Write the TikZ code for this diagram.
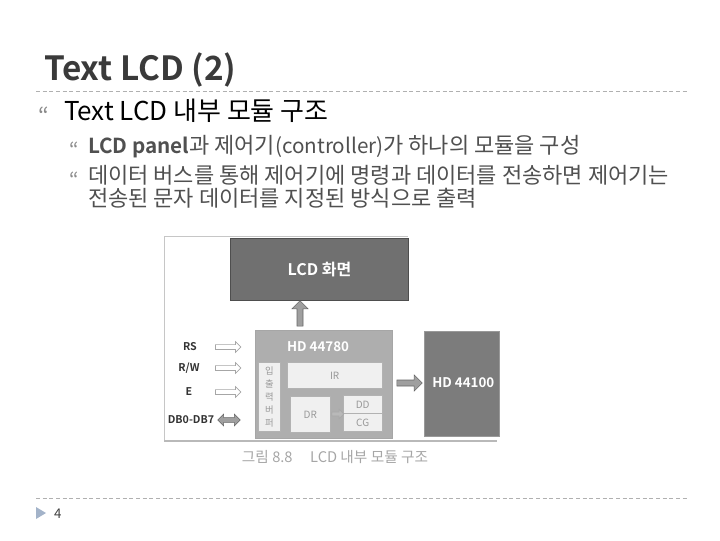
\documentclass[tikz,border=0pt]{standalone}
\usepackage{fontspec}
\setmainfont{Noto Sans CJK KR}
\newfontfamily\krb{Noto Sans CJK KR Bold}
\usetikzlibrary{arrows.meta,shapes.arrows,calc}
\definecolor{titlec}{HTML}{3A3A3A}
\definecolor{subc}{HTML}{505050}
\definecolor{bulc}{HTML}{8A8A8A}
\definecolor{dashc}{HTML}{B0B0B0}
\definecolor{darkbox}{HTML}{707070}
\definecolor{midbox}{HTML}{AEAEAE}
\definecolor{rbox}{HTML}{7C7C7C}
\definecolor{inbox}{HTML}{F0F0F0}
\definecolor{pgc}{HTML}{A3B3C9}
\newcommand{\latsm}[1]{{\fontsize{15.5}{16}\selectfont #1}}
\tikzset{
  txt/.style={anchor=base west,inner sep=0pt,outer sep=0pt},
  bul/.style={txt,text=bulc,font=\fontsize{15}{15}\selectfont},
  sub/.style={txt,text=subc,font=\fontsize{16.5}{17}\selectfont},
  blk/.style={draw=#1!70!black,fill=#1,line width=0.8pt,inner sep=0pt},
  inn/.style={draw=gray!60,fill=inbox,line width=0.5pt,inner sep=0pt},
  wlab/.style={inner sep=0pt,text=white,font=\krb\fontsize{10}{10}\selectfont},
  glab/.style={inner sep=0pt,text=gray!80,font=\fontsize{7.5}{8}\selectfont},
  sig/.style={inner sep=0pt,anchor=center,text=black!80,font=\krb\fontsize{8}{8}\selectfont},
  harrow/.style={single arrow,draw=gray!70,fill=white,minimum height=19pt,minimum width=8pt,single arrow head extend=1.5pt,inner sep=1pt,line width=0.5pt},
}
\begin{document}
\begin{tikzpicture}[x=0.75pt,y=-0.75pt]
\useasboundingbox (0,0) rectangle (720,540);
% title
\node[txt,text=titlec,font=\krb\fontsize{25}{25}\selectfont] (title) at (44,80) {Text LCD (2)};
\draw[dashc,dashed,line width=0.7pt,dash pattern=on 3pt off 2pt] (36,91) -- (687,91);
% bullets
\node[bul,font=\fontsize{17}{17}\selectfont] (b1) at (38,124) {“};
\node[txt,text=black,font=\fontsize{19.5}{20}\selectfont] (l1) at (64,120) {Text LCD 내부 모듈 구조};
\node[bul] (b2) at (69,157) {“};
\node[sub] (l2) at (88,153) {{\krb\latsm{LCD panel}}과 제어기\latsm{(controller)}가 하나의 모듈을 구성};
\node[bul] (b3) at (69,187) {“};
\node[sub] (l3) at (88,183) {데이터 버스를 통해 제어기에 명령과 데이터를 전송하면 제어기는};
\node[sub] (l4) at (88,206) {전송된 문자 데이터를 지정된 방식으로 출력};
% figure frame
\draw[gray!45,line width=0.6pt] (164,441) -- (164,236) -- (408,236);
\draw[gray!55,line width=0.8pt] (164,441) -- (497,441);
% LCD screen
\node[blk=darkbox,minimum width=133.5pt,minimum height=46.5pt,anchor=north west] (lcd) at (230,238) {};
\node[wlab,font=\krb\fontsize{12}{12}\selectfont] (lcdt) at (lcd.center) {LCD 화면};
% HD44780
\node[blk=midbox,draw=gray!70,minimum width=103pt,minimum height=81pt,anchor=north west] (hd1) at (255,330) {};
\node[wlab] (hd1t) at (318,347) {HD 44780};
% up arrow
\node[single arrow,shape border rotate=90,draw=gray!80!black,fill=gray!75,minimum height=19pt,minimum width=12pt,single arrow head extend=2pt,inner sep=1pt,anchor=center] (up) at (300,315) {};
% buffer column
\node[inn,minimum width=16.5pt,minimum height=52pt,anchor=north west] (buf) at (258,362) {};
\node[glab,align=center,font=\fontsize{7}{9.8}\selectfont] (buft) at (buf.center) {입\\출\\력\\버\\퍼};
% IR
\node[inn,minimum width=71pt,minimum height=19.5pt,anchor=north west] (ir) at (287,362) {};
\node[glab] (irt) at (ir.center) {IR};
% DR
\node[inn,minimum width=30pt,minimum height=27pt,anchor=north west] (dr) at (290,396) {};
\node[glab] (drt) at (dr.center) {DR};
% DD/CG
\node[inn,minimum width=29pt,minimum height=13.5pt,anchor=north west] (dd) at (343,395) {};
\node[inn,minimum width=29pt,minimum height=13.5pt,anchor=north west] (cg) at (343,413) {};
\node[glab] (ddt) at (dd.center) {DD};
\node[glab] (cgt) at (cg.center) {CG};
% DR -> DD arrow
\node[single arrow,draw=gray!70,fill=gray!55,minimum height=9pt,minimum width=7pt,single arrow head extend=1pt,inner sep=0.5pt] (a2) at ($(dr.east)!0.5!(dd.south west)$) {};
% HD44100
\node[blk=rbox,draw=gray!80,minimum width=56pt,minimum height=79pt,anchor=north west] (hd2) at (424,331) {};
\node[wlab,anchor=west] (hd2t) at (432,383) {HD 44100};
% right arrow
\node[single arrow,draw=gray!80!black,fill=gray!75,minimum height=19pt,minimum width=12pt,single arrow head extend=2pt,inner sep=1pt] (ra) at (408,383) {};
% signals
\node[sig] (rs) at (190,347) {RS};
\node[sig] (rw) at (189,368) {R/W};
\node[sig] (e) at (189,392) {E};
\node[sig] (db) at (191,420) {DB0-DB7};
\node[harrow] (ars) at (227,347) {};
\node[harrow] (arw) at (227,368) {};
\node[harrow] (ae) at (227,392) {};
\node[double arrow,draw=gray!80!black,fill=gray!75,minimum height=17pt,minimum width=9pt,double arrow head extend=1.5pt,inner sep=0.8pt] (adb) at (229,420) {};
% caption
\node[inner sep=0pt,text=gray!70,font=\fontsize{11}{11}\selectfont] (cap) at (335,457) {그림 8.8\hspace{1.2em}LCD 내부 모듈 구조};
% footer
\draw[dashc,dashed,line width=0.7pt,dash pattern=on 3pt off 2pt] (36,498) -- (687,498);
\fill[pgc] (36,507) -- (46,513) -- (36,519) -- cycle;
\node[txt,text=black!75,font=\fontsize{10}{10}\selectfont] (pg) at (54,518) {4};
\end{tikzpicture}
\end{document}
